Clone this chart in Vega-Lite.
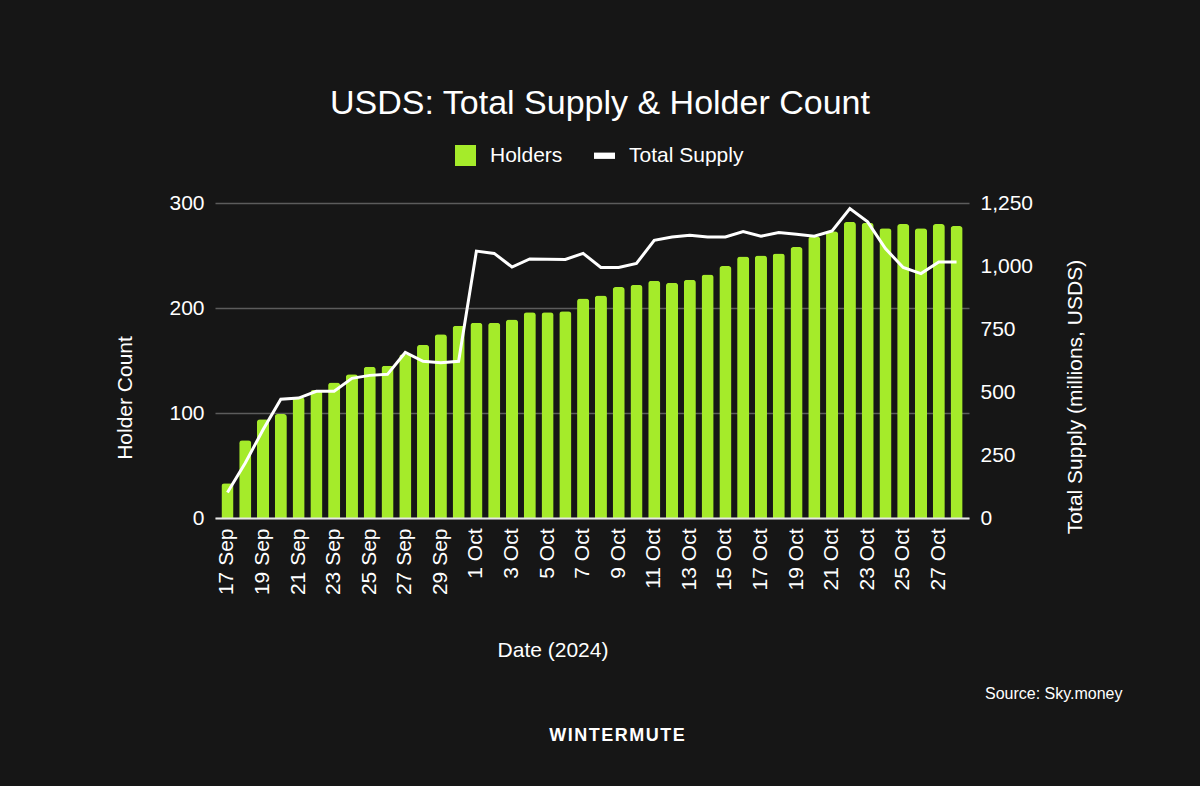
{
  "$schema": "https://vega.github.io/schema/vega-lite/v6.json",
  "width": 754,
  "height": 315,
  "autosize": {"type": "none"},
  "padding": {"left": 215, "top": 203, "right": 231, "bottom": 268},
  "background": "#161616",
  "title": {
    "text": "USDS: Total Supply & Holder Count",
    "font": "Liberation Sans",
    "fontSize": 34,
    "fontWeight": "normal",
    "color": "#ffffff",
    "frame": "group",
    "anchor": "middle",
    "dx": 8,
    "offset": 24
  },
  "config": {
    "view": {"stroke": null},
    "font": "Liberation Sans",
    "axis": {
      "labelFont": "Liberation Sans",
      "labelFontSize": 21,
      "labelColor": "#ffffff",
      "titleFont": "Liberation Sans",
      "titleFontSize": 21,
      "titleFontWeight": "normal",
      "titleColor": "#ffffff"
    }
  },
  "data": {
    "values": [
      {"date": "2024-09-17", "holders": 33, "supply": 101},
      {"date": "2024-09-18", "holders": 74, "supply": 218},
      {"date": "2024-09-19", "holders": 94, "supply": 350},
      {"date": "2024-09-20", "holders": 99, "supply": 471},
      {"date": "2024-09-21", "holders": 115, "supply": 476},
      {"date": "2024-09-22", "holders": 122, "supply": 503},
      {"date": "2024-09-23", "holders": 129, "supply": 503},
      {"date": "2024-09-24", "holders": 137, "supply": 554},
      {"date": "2024-09-25", "holders": 144, "supply": 566},
      {"date": "2024-09-26", "holders": 145, "supply": 570},
      {"date": "2024-09-27", "holders": 156, "supply": 657},
      {"date": "2024-09-28", "holders": 165, "supply": 622},
      {"date": "2024-09-29", "holders": 175, "supply": 616},
      {"date": "2024-09-30", "holders": 183, "supply": 622},
      {"date": "2024-10-01", "holders": 186, "supply": 1059},
      {"date": "2024-10-02", "holders": 186, "supply": 1050},
      {"date": "2024-10-03", "holders": 189, "supply": 996},
      {"date": "2024-10-04", "holders": 196, "supply": 1028},
      {"date": "2024-10-05", "holders": 196, "supply": 1027},
      {"date": "2024-10-06", "holders": 197, "supply": 1026},
      {"date": "2024-10-07", "holders": 209, "supply": 1050},
      {"date": "2024-10-08", "holders": 212, "supply": 994},
      {"date": "2024-10-09", "holders": 220, "supply": 994},
      {"date": "2024-10-10", "holders": 222, "supply": 1010},
      {"date": "2024-10-11", "holders": 226, "supply": 1102},
      {"date": "2024-10-12", "holders": 224, "supply": 1115},
      {"date": "2024-10-13", "holders": 227, "supply": 1122},
      {"date": "2024-10-14", "holders": 232, "supply": 1115},
      {"date": "2024-10-15", "holders": 240, "supply": 1115},
      {"date": "2024-10-16", "holders": 249, "supply": 1137},
      {"date": "2024-10-17", "holders": 250, "supply": 1118},
      {"date": "2024-10-18", "holders": 252, "supply": 1133},
      {"date": "2024-10-19", "holders": 258, "supply": 1126},
      {"date": "2024-10-20", "holders": 268, "supply": 1118},
      {"date": "2024-10-21", "holders": 273, "supply": 1139},
      {"date": "2024-10-22", "holders": 282, "supply": 1228},
      {"date": "2024-10-23", "holders": 281, "supply": 1175},
      {"date": "2024-10-24", "holders": 276, "supply": 1069},
      {"date": "2024-10-25", "holders": 280, "supply": 994},
      {"date": "2024-10-26", "holders": 276, "supply": 970},
      {"date": "2024-10-27", "holders": 280, "supply": 1016},
      {"date": "2024-10-28", "holders": 278, "supply": 1016}
    ]
  },
  "layer": [
    {
      "mark": {"type": "bar", "cornerRadiusTopLeft": 3, "cornerRadiusTopRight": 3},
      "encoding": {
        "x": {
          "field": "date",
          "type": "ordinal",
          "scale": {"paddingInner": 0.32, "paddingOuter": 0.36},
          "axis": {
            "title": "Date (2024)",
            "values": ["2024-09-17", "2024-09-19", "2024-09-21", "2024-09-23", "2024-09-25", "2024-09-27", "2024-09-29", "2024-10-01", "2024-10-03", "2024-10-05", "2024-10-07", "2024-10-09", "2024-10-11", "2024-10-13", "2024-10-15", "2024-10-17", "2024-10-19", "2024-10-21", "2024-10-23", "2024-10-25", "2024-10-27"],
            "labelExpr": "utcFormat(toDate(datum.value), '%-d %b')",
            "labelAngle": -90,
            "labelOverlap": false,
            "labelPadding": 10,
            "ticks": false,
            "grid": false,
            "domain": true,
            "domainColor": "#e6e6e6",
            "domainWidth": 2,
            "zindex": 1,
            "titleX": 337.5,
            "titleY": 132,
            "titleAngle": 0,
            "titleAlign": "center",
            "titleBaseline": "middle"
          }
        },
        "y": {
          "field": "holders",
          "type": "quantitative",
          "scale": {"domain": [0, 300]},
          "axis": {
            "title": "Holder Count",
            "values": [0, 100, 200, 300],
            "grid": true,
            "gridColor": "#5c5c5c",
            "gridWidth": 1.5,
            "domain": false,
            "ticks": false,
            "labelPadding": 11,
            "titleX": -89.5,
            "titleY": 194.5,
            "titleAngle": -90,
            "titleAlign": "center",
            "titleBaseline": "middle"
          }
        },
        "color": {
          "datum": "Holders",
          "scale": {"domain": ["Holders", "Total Supply"], "range": ["#a5eb2a", "#ffffff"]},
          "legend": {
            "orient": "none",
            "legendX": 240,
            "legendY": -58,
            "direction": "horizontal",
            "title": "W\u200aI\u200aN\u200aT\u200aE\u200aR\u200aM\u200aU\u200aT\u200aE",
            "titleOrient": "bottom",
            "titlePadding": 561,
            "titleAnchor": "middle",
            "titleFont": "Liberation Sans",
            "titleFontSize": 18,
            "titleFontWeight": "bold",
            "titleColor": "#ffffff",
            "labelFont": "Liberation Sans",
            "labelFontSize": 21,
            "labelColor": "#ffffff",
            "labelOffset": 14,
            "columnPadding": 31,
            "symbolSize": 441,
            "symbolType": "square",
            "encode": {
              "title": {"update": {"dx": {"value": 18}}},
              "symbols": {
                "update": {
                  "shape": {"signal": "datum.value === 'Holders' ? 'square' : 'M-1,-0.3H1V0.3H-1Z'"},
                  "fill": {"scale": "color", "field": "value"},
                  "strokeWidth": {"value": 0},
                  "opacity": {"value": 1}
                }
              }
            }
          }
        }
      }
    },
    {
      "mark": {"type": "line", "strokeWidth": 3},
      "encoding": {
        "x": {
          "field": "date",
          "type": "ordinal",
          "axis": {
            "orient": "bottom",
            "title": "Source: Sky.money",
            "labels": false,
            "ticks": false,
            "domain": false,
            "grid": false,
            "titleFontSize": 16,
            "titleX": 907,
            "titleY": 175,
            "titleAngle": 0,
            "titleAlign": "right",
            "titleBaseline": "middle"
          }
        },
        "y": {
          "field": "supply",
          "type": "quantitative",
          "scale": {"domain": [0, 1250]},
          "axis": {
            "orient": "right",
            "title": "Total Supply (millions, USDS)",
            "values": [0, 250, 500, 750, 1000, 1250],
            "format": ",.0f",
            "grid": false,
            "domain": false,
            "ticks": false,
            "labelPadding": 11,
            "titleX": 106,
            "titleY": 193.5,
            "titleAngle": -90,
            "titleAlign": "center",
            "titleBaseline": "middle"
          }
        },
        "color": {"datum": "Total Supply"}
      }
    }
  ],
  "resolve": {"scale": {"y": "independent"}, "axis": {"x": "independent"}}
}
